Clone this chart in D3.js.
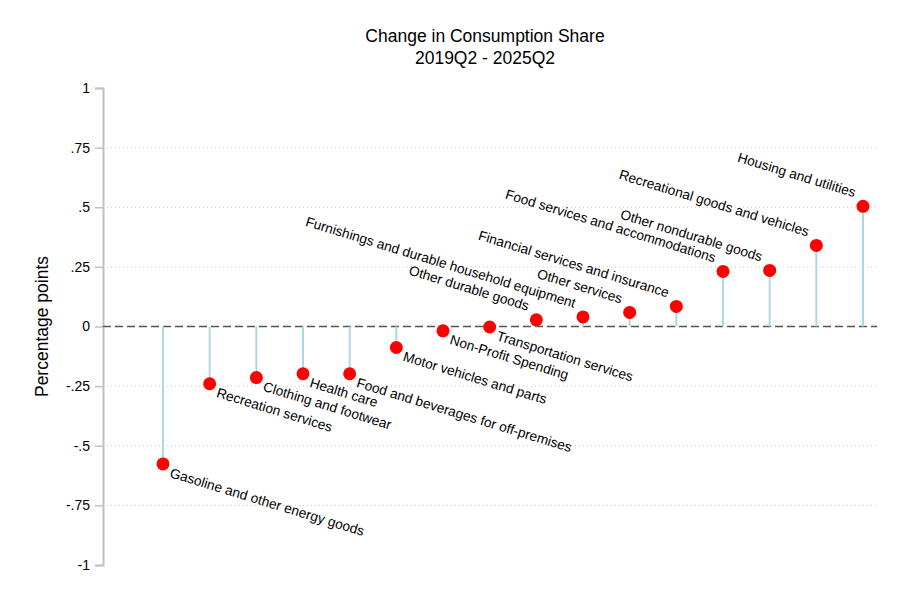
<!DOCTYPE html>
<html>
<head>
<meta charset="utf-8">
<script src="https://cdn.jsdelivr.net/npm/d3@7"></script>
<style>
  body { margin: 0; background: #fff; }
  text { font-family: "Liberation Sans", Arial, sans-serif; fill: #000; }
</style>
</head>
<body>
<svg id="chart" width="900" height="600"></svg>
<script>
// categories sorted by change, values in percentage points
var categories = [
  "Gasoline and other energy goods",
  "Recreation services",
  "Clothing and footwear",
  "Health care",
  "Food and beverages for off-premises",
  "Motor vehicles and parts",
  "Non-Profit Spending",
  "Transportation services",
  "Other durable goods",
  "Furnishings and durable household equipment",
  "Other services",
  "Financial services and insurance",
  "Food services and accommodations",
  "Other nondurable goods",
  "Recreational goods and vehicles",
  "Housing and utilities"
];
var changes = [-0.576, -0.24, -0.214, -0.198, -0.198, -0.088, -0.018, -0.002,
  0.028, 0.04, 0.059, 0.084, 0.231, 0.235, 0.34, 0.504];
var yTicks = [1, 0.75, 0.5, 0.25, 0, -0.25, -0.5, -0.75, -1];
var gridTicks = [0.75, 0.5, 0.25, -0.25, -0.5, -0.75];

var svg = d3.select("#chart");
var left = 103, right = 877;

var x = d3.scalePoint().domain(categories).range([163, 863]);
var y = d3.scaleLinear().domain([-1, 1]).range([565, 88]);

function fmt(d) {
  if (d == 0) return "0";
  var s = String(d);
  return s.replace("0.", ".");
}

// title
svg.append("text").attr("x", 485).attr("y", 42).attr("text-anchor", "middle")
  .style("font-size", "17.5px").text("Change in Consumption Share");
svg.append("text").attr("x", 485).attr("y", 64).attr("text-anchor", "middle")
  .style("font-size", "17.5px").text("2019Q2 - 2025Q2");

// gridlines
svg.selectAll(".grid").data(gridTicks).enter().append("line")
  .attr("class", "grid")
  .attr("x1", left).attr("x2", right)
  .attr("y1", function(d){ return y(d); }).attr("y2", function(d){ return y(d); })
  .attr("stroke", "#c8c8c8").attr("stroke-width", 1)
  .attr("stroke-dasharray", "1,3");

// y axis
var yAxis = d3.axisLeft(y).tickValues(yTicks).tickFormat(fmt).tickSize(8).tickPadding(5);
var ga = svg.append("g").attr("transform", "translate(" + left + ",0)").call(yAxis);
ga.select(".domain").attr("stroke", "#c0c0c0").attr("stroke-width", 2);
ga.selectAll(".tick line").attr("stroke", "#c0c0c0").attr("stroke-width", 1.5);
ga.selectAll(".tick text").style("font-size", "14px").style("font-family", "Liberation Sans, Arial, sans-serif").attr("fill", "#000");

svg.append("text")
  .attr("transform", "translate(48," + y(0) + ") rotate(-90)")
  .attr("text-anchor", "middle")
  .style("font-size", "17.5px").text("Percentage points");

// zero line
svg.append("line")
  .attr("x1", left).attr("x2", right)
  .attr("y1", y(0)).attr("y2", y(0))
  .attr("stroke", "#555").attr("stroke-width", 1.3)
  .attr("stroke-dasharray", "8,4");

var data = categories.map(function(c, i){ return {name: c, value: changes[i]}; });

// stems
svg.selectAll(".stem").data(data).enter().append("line")
  .attr("class", "stem")
  .attr("x1", function(d){ return x(d.name); }).attr("x2", function(d){ return x(d.name); })
  .attr("y1", y(0)).attr("y2", function(d){ return y(d.value); })
  .attr("stroke", "#add8e6").attr("stroke-width", 2);

// markers
svg.selectAll(".dot").data(data).enter().append("circle")
  .attr("class", "dot")
  .attr("cx", function(d){ return x(d.name); })
  .attr("cy", function(d){ return y(d.value); })
  .attr("r", 6.5).attr("fill", "#ff0000");

// labels: negative below right, positive above left
svg.selectAll(".lab").data(data).enter().append("text")
  .attr("class", "lab")
  .attr("transform", function(d){
    var px = x(d.name), py = y(d.value);
    if (d.value < 0) return "translate(" + (px + 6) + "," + (py + 13) + ") rotate(17)";
    return "translate(" + (px - 9) + "," + (py - 9) + ") rotate(17)";
  })
  .attr("text-anchor", function(d){ return d.value < 0 ? "start" : "end"; })
  .style("font-size", "13.7px")
  .text(function(d){ return d.name; });
</script>
</body>
</html>
